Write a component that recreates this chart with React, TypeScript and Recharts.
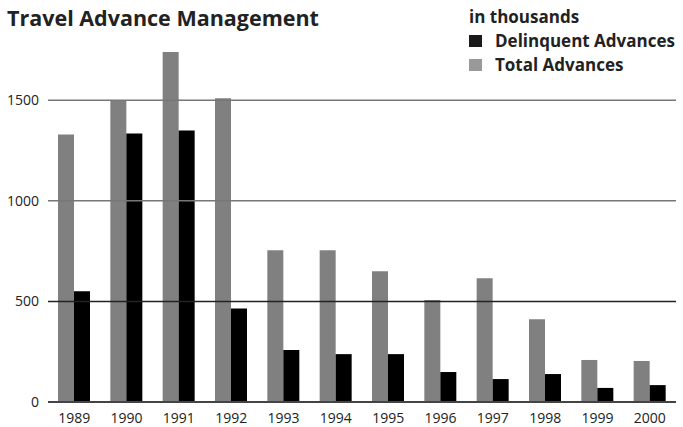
import React from "react";
import { BarChart, Bar, XAxis, YAxis, ReferenceLine } from "recharts";

const years = ["1989", "1990", "1991", "1992", "1993", "1994", "1995", "1996", "1997", "1998", "1999", "2000"];
const totalAdvances = [1330, 1500, 1740, 1510, 755, 755, 650, 507, 615, 412, 209, 204];
const delinquentAdvances = [550, 1335, 1350, 465, 258, 238, 238, 149, 114, 139, 70, 84];
const yTicks = [0, 500, 1000, 1500];
const gridLines = [
  { value: 500, color: "#222" },
  { value: 1000, color: "#777" },
  { value: 1500, color: "#777" },
];
const legendItems = [
  { name: "Delinquent Advances", color: "#1a1a1a" },
  { name: "Total Advances", color: "#999" },
];

const data = years.map((y, i) => ({
  year: y,
  total: totalAdvances[i],
  delinquent: delinquentAdvances[i],
}));

const FONT = "'Open Sans', 'Noto Sans', sans-serif";

export default function App() {
  return (
    <div style={{ position: "absolute", left: 0, top: 0, width: 683, height: 427, background: "#fff" }}>
      <div
        style={{
          position: "absolute",
          left: 7,
          top: 3,
          fontFamily: FONT,
          fontWeight: 700,
          fontSize: 21.5,
          color: "#222",
          whiteSpace: "nowrap",
        }}
      >
        Travel Advance Management
      </div>
      <div
        style={{
          position: "absolute",
          left: 469,
          top: 5,
          fontFamily: FONT,
          fontWeight: 700,
          fontSize: 17,
          color: "#222",
          lineHeight: "24px",
          whiteSpace: "nowrap",
        }}
      >
        <div>in thousands</div>
        {legendItems.map((it) => (
          <div key={it.name} style={{ display: "flex", alignItems: "center" }}>
            <span style={{ display: "inline-block", width: 13, height: 12, background: it.color, marginRight: 13 }} />
            <span>{it.name}</span>
          </div>
        ))}
      </div>
      <BarChart
        width={683}
        height={427}
        data={data}
        margin={{ top: 50, right: 7, bottom: 0, left: 0 }}
        barGap={0}
        barCategoryGap={10}
      >
        {gridLines.map((g) => (
          <ReferenceLine key={g.value} y={g.value} stroke={g.color} strokeWidth={1.5} />
        ))}
        <XAxis
          dataKey="year"
          height={25}
          tickLine={false}
          tickSize={0}
          tickMargin={11}
          axisLine={{ stroke: "#444", strokeWidth: 2 }}
          tick={{ fontFamily: FONT, fontSize: 14, fill: "#222" }}
          interval={0}
        />
        <YAxis
          width={48}
          domain={[0, 1750]}
          ticks={yTicks}
          axisLine={false}
          tickLine={false}
          tickSize={0}
          tickMargin={9}
          tick={{ fontFamily: FONT, fontSize: 14, fill: "#222" }}
        />
        <Bar dataKey="total" name="Total Advances" fill="#808080" isAnimationActive={false} />
        <Bar dataKey="delinquent" name="Delinquent Advances" fill="#000" isAnimationActive={false} />
      </BarChart>
    </div>
  );
}
